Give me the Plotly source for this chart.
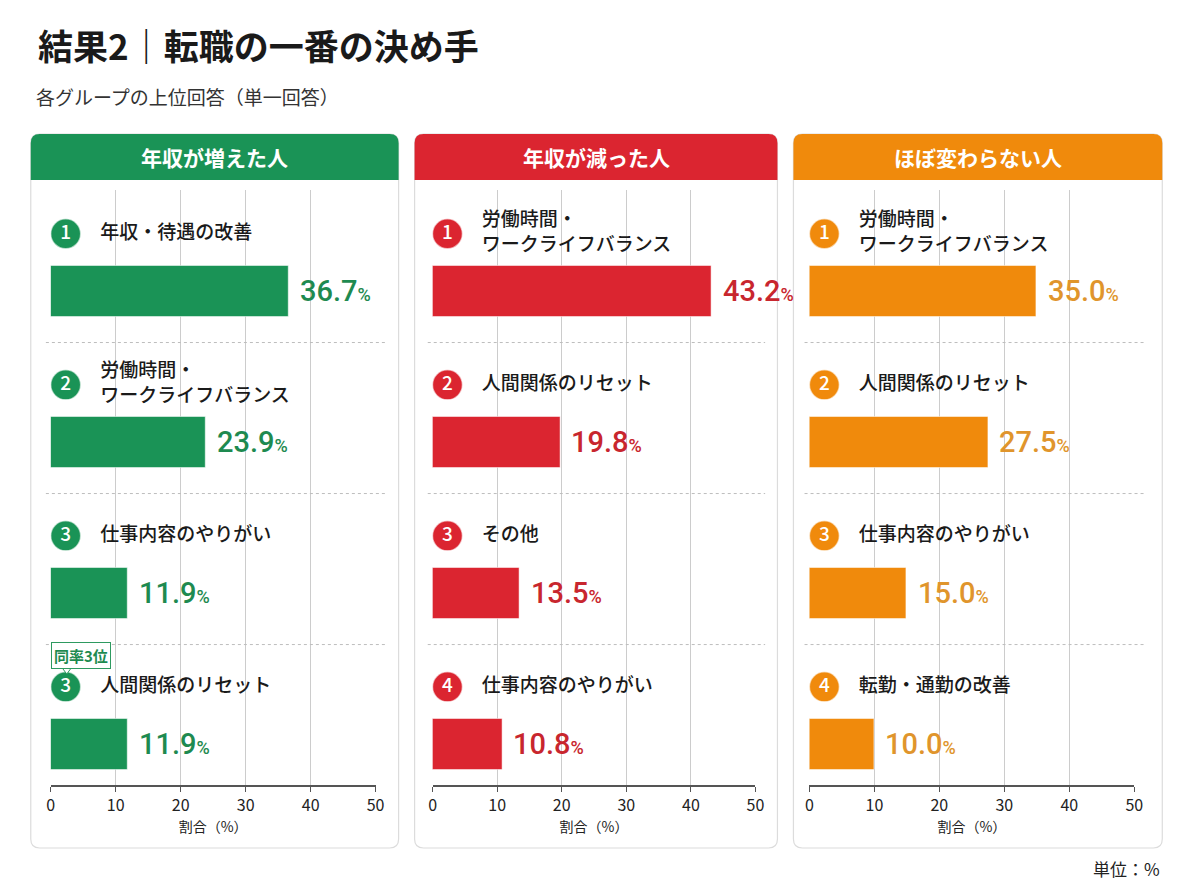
import plotly.graph_objects as go
from plotly.subplots import make_subplots

# page has an 8px body margin, so the figure is a bit smaller than the window
W, H = 1179, 880
OFF = 8
# measured horizontal squeeze of the rendered page
SX, CX = 0.9894, 11.35

groups = ["年収が増えた人", "年収が減った人", "ほぼ変わらない人"]

ranks_up = ["1", "2", "3", "3"]
labels_up = ["年収・待遇の改善", "労働時間・<br>ワークライフバランス", "仕事内容のやりがい", "人間関係のリセット"]
values_up = [36.7, 23.9, 11.9, 11.9]

ranks_down = ["1", "2", "3", "4"]
labels_down = ["労働時間・<br>ワークライフバランス", "人間関係のリセット", "その他", "仕事内容のやりがい"]
values_down = [43.2, 19.8, 13.5, 10.8]

ranks_same = ["1", "2", "3", "4"]
labels_same = ["労働時間・<br>ワークライフバランス", "人間関係のリセット", "仕事内容のやりがい", "転勤・通勤の改善"]
values_same = [35.0, 27.5, 15.0, 10.0]

x_ticks = [0, 10, 20, 30, 40, 50]

bar_colors = ["#1a9356", "#db2530", "#f08a0c"]
text_colors = ["#1e8a50", "#c8262e", "#e0952c"]

JP = "Noto Sans CJK JP"
NUM = "Roboto, sans-serif"


def px(x):
    return (x / SX - CX) / W


def py(y):
    return 1 - (y - OFF) / H


# card boxes (reference pixel coords)
cards = [(30, 398), (414, 777), (793, 1162)]
card_top, card_bot, head_bot = 134, 848, 180
x_domains = [(50, 375), (432, 755), (809, 1134)]

fig = make_subplots(rows=1, cols=3)

panels = [
    (ranks_up, labels_up, values_up),
    (ranks_down, labels_down, values_down),
    (ranks_same, labels_same, values_same),
]

ypos = [0, 1, 2, 3]

for k, (ranks, labels, values) in enumerate(panels):
    col = k + 1
    fig.add_trace(go.Bar(
        x=values, y=ypos, orientation="h", width=0.34,
        marker=dict(color=bar_colors[k], line=dict(color="rgba(255,255,255,0.5)", width=1)),
        hoverinfo="skip", showlegend=False,
    ), row=1, col=col)
    # rank circles
    fig.add_trace(go.Scatter(
        x=[2.3] * len(ranks), y=[i - 0.38 for i in ypos], mode="markers+text",
        marker=dict(size=30, color=bar_colors[k], line=dict(color="rgba(255,255,255,0.6)", width=1.5)),
        text=ranks, textposition="middle center",
        textfont=dict(family=JP, size=19, color="white", weight=500),
        hoverinfo="skip", showlegend=False,
    ), row=1, col=col)
    # category labels
    fig.add_trace(go.Scatter(
        x=[7.6] * len(labels), y=[i - 0.38 for i in ypos], mode="text",
        text=labels, textposition="middle right",
        textfont=dict(family=JP, size=19, color="#1a1a1a", weight=500),
        hoverinfo="skip", showlegend=False,
    ), row=1, col=col)
    xa = "x" if k == 0 else f"x{col}"
    ya = "y" if k == 0 else f"y{col}"
    for i, v in enumerate(values):
        fig.add_annotation(
            x=v, y=i, xref=xa, yref=ya, xanchor="left", yanchor="middle", xshift=9,
            text=f"{v:.1f}<span style='font-size:18px'>%</span>", showarrow=False,
            font=dict(family=NUM, size=29, color=text_colors[k], weight=500),
        )
    # dotted separators
    for i in ypos[:-1]:
        fig.add_shape(type="line", xref=f"{xa} domain", yref=ya,
                      x0=-0.015, x1=1.03, y0=i + 0.34, y1=i + 0.34,
                      line=dict(color="#bdbdbd", width=1, dash="dot"))

    d0, d1 = x_domains[k]
    fig.update_xaxes(
        domain=[px(d0), px(d1)], range=[0, 50], tickvals=x_ticks,
        showgrid=True, gridcolor="#cccccc", gridwidth=1, zeroline=False,
        showline=True, linecolor="#555555", linewidth=1.5,
        ticks="outside", ticklen=5, tickcolor="#555555",
        tickfont=dict(family=JP, size=16, color="#222222"),
        title=dict(text="割合（%）", font=dict(family=JP, size=14, color="#222222"), standoff=4),
        fixedrange=True, row=1, col=col,
    )
    fig.update_yaxes(
        domain=[py(785), py(190)], range=[3.27, -0.67], autorange=False,
        visible=False, showgrid=False, fixedrange=True, row=1, col=col,
    )

    # card and header
    cx0, cx1 = cards[k]
    r = 9
    x0, x1 = px(cx0), px(cx1)
    rx, ry = r / W, r / H
    y0, y1 = py(card_bot), py(card_top)
    card_path = (f"M {x0+rx},{y0} L {x1-rx},{y0} Q {x1},{y0} {x1},{y0+ry} "
                 f"L {x1},{y1-ry} Q {x1},{y1} {x1-rx},{y1} L {x0+rx},{y1} "
                 f"Q {x0},{y1} {x0},{y1-ry} L {x0},{y0+ry} Q {x0},{y0} {x0+rx},{y0} Z")
    fig.add_shape(type="path", path=card_path, xref="paper", yref="paper",
                  line=dict(color="#dcdcdc", width=1.2), fillcolor="white", layer="below")
    hb = py(head_bot)
    head_path = (f"M {x0},{hb} L {x1},{hb} L {x1},{y1-ry} Q {x1},{y1} {x1-rx},{y1} "
                 f"L {x0+rx},{y1} Q {x0},{y1} {x0},{y1-ry} Z")
    fig.add_shape(type="path", path=head_path, xref="paper", yref="paper",
                  line=dict(width=0), fillcolor=bar_colors[k], layer="below")
    fig.add_annotation(x=(x0 + x1) / 2, y=py((card_top + head_bot) / 2), xref="paper", yref="paper",
                       xanchor="center", yanchor="middle",
                       text=f"<b>{groups[k]}</b>", showarrow=False,
                       font=dict(family=JP, size=21, color="white"))

# tie badge with a small pointer toward the rank circle
fig.add_shape(type="path", xref="paper", yref="paper",
              path=f"M {px(60)},{py(666)} L {px(66)},{py(674)} L {px(72)},{py(666)} Z",
              line=dict(color="#2e9a60", width=1), fillcolor="white")
fig.add_annotation(x=px(80), y=py(655), xref="paper", yref="paper",
                   xanchor="center", yanchor="middle",
                   text="<b>同率3位</b>", showarrow=False,
                   font=dict(family=JP, size=15, color="#1e8a50"),
                   bgcolor="white", bordercolor="#2e9a60", borderwidth=1, borderpad=2)

# title and notes
fig.add_annotation(x=px(35), y=py(45), xref="paper", yref="paper",
                   xanchor="left", yanchor="middle",
                   text="<b>結果2｜転職の一番の決め手</b>", showarrow=False,
                   font=dict(family=JP, size=35, color="#1a1a1a"))
fig.add_annotation(x=px(33), y=py(97), xref="paper", yref="paper",
                   xanchor="left", yanchor="middle",
                   text="各グループの上位回答（単一回答）", showarrow=False,
                   font=dict(family=JP, size=19, color="#333333"))
fig.add_annotation(x=px(1162), y=py(868), xref="paper", yref="paper",
                   xanchor="right", yanchor="middle",
                   text="単位：%", showarrow=False,
                   font=dict(family=JP, size=17, color="#222222"))

fig.update_layout(
    width=W, height=H, margin=dict(l=0, r=0, t=0, b=0),
    paper_bgcolor="white", plot_bgcolor="rgba(0,0,0,0)",
    bargap=0, showlegend=False,
)

fig.write_html("out.html")
